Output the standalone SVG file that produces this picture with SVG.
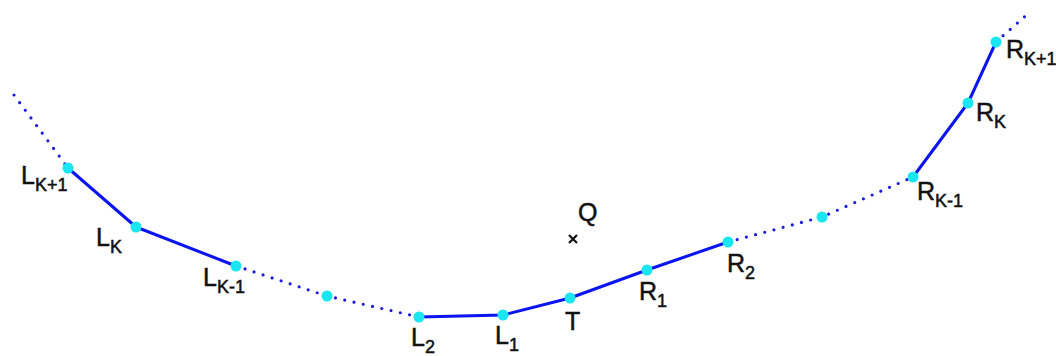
<svg xmlns="http://www.w3.org/2000/svg" width="1056" height="356" viewBox="0 0 1056 356">
<style>
.solid{fill:none;stroke:#0a14f0;stroke-width:3;stroke-linejoin:round}
.dot{fill:none;stroke:#1a1ae0;stroke-width:3.2;stroke-linecap:round;stroke-dasharray:0 9.5}
.pt{fill:#19e6f0}
text{font-family:"Liberation Sans",Arial,sans-serif;font-size:25px;fill:#111;stroke:#111;stroke-width:0.5}
.sub{font-size:18px}
</style>
<rect width="1056" height="356" fill="#fff"/>
<g id="connectors">
<path class="dot" d="M14 95 L68 168"/>
<path class="solid" d="M68 168 L136 227 L236 266"/>
<path class="dot" d="M236 266 L327 296 L419 317"/>
<path class="solid" d="M419 317 L503 315 L570 298 L647 270 L728 242"/>
<path class="dot" d="M728 242 L822 217 L913 177"/>
<path class="solid" d="M913 177 L968 103 L996 42"/>
<path class="dot" d="M996 42 L1031 11"/>
</g>
<g id="LK1"><circle class="pt" cx="68" cy="168" r="5.5"/><text x="21" y="184">L<tspan class="sub" dy="7">K+1</tspan></text></g>
<g id="LK"><circle class="pt" cx="136" cy="227" r="5.5"/><text x="96" y="246">L<tspan class="sub" dy="7">K</tspan></text></g>
<g id="LKm1"><circle class="pt" cx="236" cy="266" r="5.5"/><text x="203" y="286">L<tspan class="sub" dy="7">K-1</tspan></text></g>
<g id="midL"><circle class="pt" cx="327" cy="296" r="5.5"/></g>
<g id="L2"><circle class="pt" cx="419" cy="317" r="5.5"/><text x="411" y="346">L<tspan class="sub" dy="7">2</tspan></text></g>
<g id="L1"><circle class="pt" cx="503" cy="315" r="5.5"/><text x="495" y="344">L<tspan class="sub" dy="7">1</tspan></text></g>
<g id="T"><circle class="pt" cx="570" cy="298" r="5.5"/><text x="565" y="330">T</text></g>
<g id="R1"><circle class="pt" cx="647" cy="270" r="5.5"/><text x="639" y="300">R<tspan class="sub" dy="7">1</tspan></text></g>
<g id="R2"><circle class="pt" cx="728" cy="242" r="5.5"/><text x="727" y="272">R<tspan class="sub" dy="7">2</tspan></text></g>
<g id="midR"><circle class="pt" cx="822" cy="217" r="5.5"/></g>
<g id="RKm1"><circle class="pt" cx="913" cy="177" r="5.5"/><text x="917" y="200">R<tspan class="sub" dy="7">K-1</tspan></text></g>
<g id="RK"><circle class="pt" cx="968" cy="103" r="5.5"/><text x="976" y="121">R<tspan class="sub" dy="7">K</tspan></text></g>
<g id="RK1"><circle class="pt" cx="996" cy="42" r="5.5"/><text x="1006" y="58">R<tspan class="sub" dy="7">K+1</tspan></text></g>
<g id="Q"><path d="M569 235 L577 243 M577 235 L569 243" stroke="#111" stroke-width="2.2"/><text x="578" y="221">Q</text></g>
</svg>
